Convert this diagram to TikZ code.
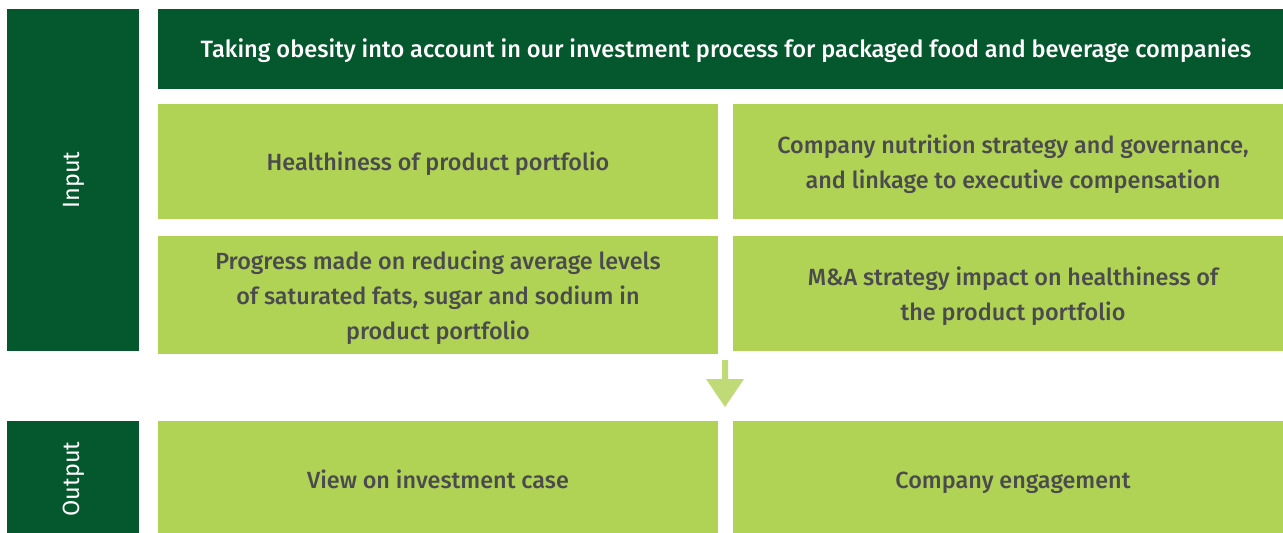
\documentclass[tikz,border=0pt]{standalone}
\usepackage{fontspec}
\setmainfont{Fira Sans}
\newfontfamily\medfont{Fira Sans Medium}
\definecolor{dkgreen}{HTML}{05572D}
\definecolor{ltgreen}{HTML}{B1D355}
\definecolor{arrgreen}{HTML}{C0DA78}
\definecolor{txtgray}{HTML}{4A4A4F}
\begin{document}
\begin{tikzpicture}[x=1pt,y=-1pt,
  darkbox/.style={fill=dkgreen,draw=none},
  lightbox/.style={fill=ltgreen,draw=none},
  multitext/.style={text=txtgray,font=\medfont\fontsize{23.4}{35}\selectfont,align=center,inner sep=0pt},
  onetext/.style={text=txtgray,font=\medfont\fontsize{23.4}{35}\selectfont,text height=17pt,text depth=5pt,inner sep=0pt},
  sidetext/.style={text=white,font=\fontsize{23.5}{25}\selectfont,rotate=90,text height=17pt,text depth=5pt,inner sep=0pt}]
\useasboundingbox (0,0) rectangle (1283,533);
% side boxes
\fill[darkbox] (7,9) rectangle (139,351);
\node[sidetext] (inlbl) at (73,180) {Input};
\fill[darkbox] (7,421) rectangle (139,533);
\node[sidetext] (outlbl) at (73,479) {Output};
% header
\fill[darkbox] (158,9) rectangle (1283,89);
\node[onetext,text=white,font=\medfont\fontsize{23.6}{25}\selectfont] (hdr) at (726,51.5) {Taking obesity into account in our investment process for packaged food and beverage companies};
% row 1
\fill[lightbox] (158,104) rectangle (718,219);
\node[onetext] (a) at (438,164.5) {Healthiness of product portfolio};
\fill[lightbox] (733,104) rectangle (1283,219);
\node[multitext] (b) at (1013,164) {Company nutrition strategy and governance,\\and linkage to executive compensation};
% row 2
\fill[lightbox] (158,236) rectangle (718,354);
\node[multitext] (c) at (438,297.5) {Progress made on reducing average levels\\of saturated fats, sugar and sodium in\\product portfolio};
\fill[lightbox] (733,236) rectangle (1283,351);
\node[multitext] (d) at (1013,296.5) {M\&A strategy impact on healthiness of\\the product portfolio};
% arrow
\fill[arrgreen] (722,360) -- (728,360) -- (728,379) -- (744,379) -- (725,407) -- (706,379) -- (722,379) -- cycle;
% output row
\fill[lightbox] (158,421) rectangle (718,533);
\node[onetext] (e) at (438,482) {View on investment case};
\fill[lightbox] (733,421) rectangle (1283,533);
\node[onetext] (f) at (1013,482) {Company engagement};
\end{tikzpicture}
\end{document}
